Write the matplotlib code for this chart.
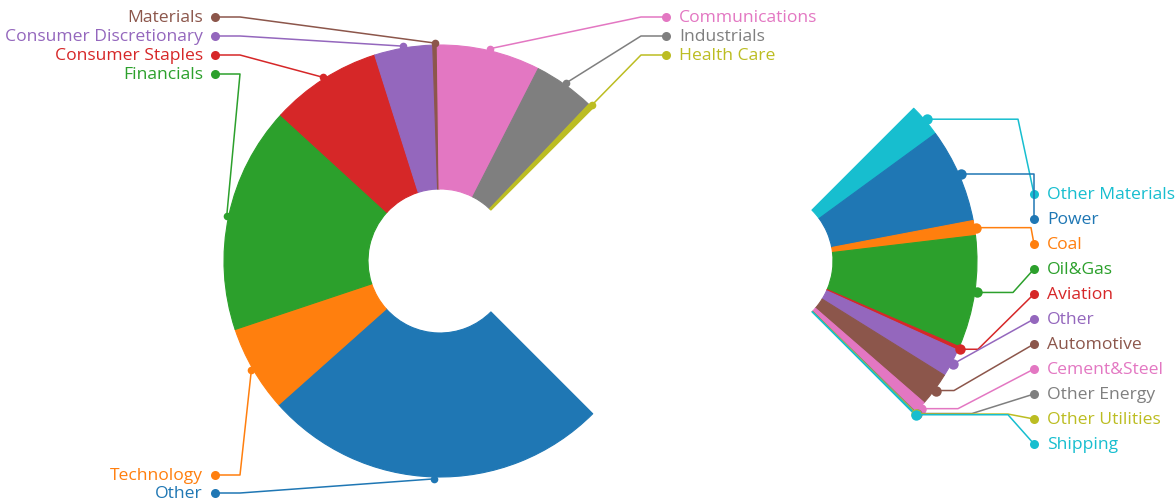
import matplotlib.pyplot as plt
import numpy as np

plt.rcParams['font.family'] = ['Open Sans', 'DejaVu Sans']

# main breakdown by sector
sectors = ['Other', 'Technology', 'Financials', 'Consumer Staples',
           'Consumer Discretionary', 'Materials', 'Communications',
           'Industrials', 'Health Care']
sector_share = [34.6, 8.6, 22.6, 11.1, 5.8, 0.45, 10.3, 6.1, 0.55]

# breakdown by industry segment
segments = ['Other Materials', 'Power', 'Coal', 'Oil&Gas', 'Aviation', 'Other',
            'Automotive', 'Cement&Steel', 'Other Energy', 'Other Utilities',
            'Shipping']
segment_share = [8.8, 25.2, 4.0, 30.0, 1.0, 7.5, 9.0, 3.3, 0.2, 0.2, 0.3]

tab10 = plt.get_cmap('tab10').colors
sector_colors = [tab10[i] for i in range(9)]
segment_colors = [tab10[9]] + [tab10[i] for i in range(9)] + [tab10[9]]

W, H = 1176, 502
R_OUT, R_IN = 216, 72

# label rows, in pixels from the top
sector_label_y = [494, 476, 75, 56, 37, 18, 18, 37, 56]
sector_label_side = ['l'] * 6 + ['r'] * 3
segment_label_y = [195 + 25 * i for i in range(len(segments))]
segment_elbow_x = [1018, 1034, 1031, 1013, 978, None, 954, 958, 972, 1008, 1008]


def donut(ax, values, colors, center, span, start):
    fracs = np.array(values, dtype=float)
    fracs = fracs / fracs.sum() * span / 360
    wedges, _ = ax.pie(fracs, colors=colors, startangle=start,
                       counterclock=False, normalize=False, radius=R_OUT,
                       center=center,
                       wedgeprops=dict(width=R_OUT - R_IN, linewidth=0.8))
    for w, c in zip(wedges, colors):
        w.set_edgecolor(c)
        w.set_joinstyle('round')
    mids = np.radians(start - 360 * (np.cumsum(fracs) - fracs / 2))
    r = R_OUT + 2
    return center[0] + r * np.cos(mids), center[1] + r * np.sin(mids)


def main():
    fig = plt.figure(figsize=(W / 100, H / 100), dpi=100)
    ax = fig.add_axes([0, 0, 1, 1])

    # left: 270 degree donut, gap on the right side
    ax_x, ax_y = donut(ax, sector_share, sector_colors, (440, H - 262), 270, -45)
    for i, name in enumerate(sectors):
        c = sector_colors[i]
        y = H - sector_label_y[i]
        if sector_label_side[i] == 'l':
            dot_x, elbow_x, tx, ha = 215, 240, 203, 'right'
        else:
            dot_x, elbow_x, tx, ha = 666, 641, 679, 'left'
        ax.plot([ax_x[i], elbow_x, dot_x], [ax_y[i], y, y], color=c, lw=1.1)
        ax.plot(ax_x[i], ax_y[i], 'o', color=c, ms=5.5, mec='none')
        ax.plot(dot_x, y, 'o', color=c, ms=6.5, mec='none')
        ax.text(tx, y, name, color=c, fontsize=12.6, ha=ha, va='center')

    # right: the remaining 90 degree wedge
    bx, by = donut(ax, segment_share, segment_colors, (761, H - 262), 90, 45)
    for i, name in enumerate(segments):
        c = segment_colors[i]
        y = H - segment_label_y[i]
        ex = segment_elbow_x[i] if segment_elbow_x[i] is not None else bx[i]
        ax.plot([bx[i], ex, 1034], [by[i], by[i], y], color=c, lw=1.1)
        ax.plot(bx[i], by[i], 'o', color=c, ms=7.5, mec='none')
        ax.plot(1034, y, 'o', color=c, ms=6.5, mec='none')
        ax.text(1047, y, name, color=c, fontsize=12.6, ha='left', va='center')

    ax.set_xlim(0, W)
    ax.set_ylim(0, H)
    ax.set_aspect('equal')
    ax.axis('off')

    fig.savefig('out.png', dpi=100)


if __name__ == "__main__":
    main()
